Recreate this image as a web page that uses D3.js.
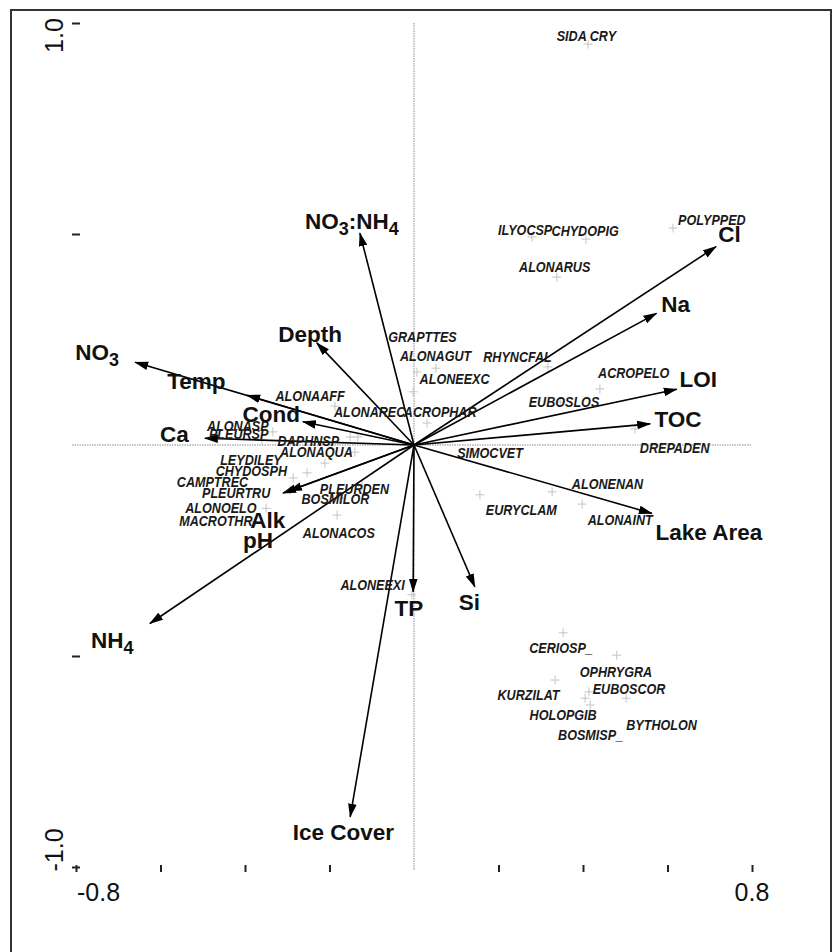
<!DOCTYPE html>
<html>
<head>
<meta charset="utf-8">
<script src="https://cdn.jsdelivr.net/npm/d3@7"></script>
<style>
  html, body { margin: 0; padding: 0; background: #fff; }
  svg { display: block; font-family: "Liberation Sans", Arial, Helvetica, sans-serif; }
</style>
</head>
<body>
<div id="chart"></div>
<script>
// Ordination biplot: environmental variables as arrows, taxa as points.

// Axis ticks and their printed labels
const xTickValues = [-0.8, -0.6, -0.4, -0.2, 0.2, 0.4, 0.6, 0.8];
const yTickValues = [-1.0, -0.5, 0.5, 1.0];
const xTickLabels = [{ v: -0.8, t: "-0.8" }, { v: 0.8, t: "0.8" }];
const yTickLabels = [{ v: 1.0, t: "1.0" }, { v: -1.0, t: "-1.0" }];

// Environmental variables: arrow tip scores on axis 1 and axis 2
const envNames = ["NO3:NH4", "Depth", "NO3", "Temp", "Cond", "Ca", "Alk", "pH", "NH4",
                  "TP", "Ice Cover", "Si", "Lake Area", "TOC", "LOI", "Na", "Cl"];
const envAxis1 = [-0.128, -0.230, -0.660, -0.395, -0.263, -0.495, -0.310, -0.296, -0.625,
                  -0.002, -0.151, 0.144, 0.563, 0.559, 0.622, 0.574, 0.715];
const envAxis2 = [0.502, 0.242, 0.196, 0.118, 0.055, 0.016, -0.114, -0.109, -0.423,
                  -0.348, -0.881, -0.336, -0.162, 0.050, 0.132, 0.312, 0.470];
// Where each variable name sits, in axis units (label centre, baseline)
const envLabelAxis1 = [-0.147, -0.246, -0.750, -0.515, -0.338, -0.567, -0.346, -0.369, -0.714,
                       -0.012, -0.167, 0.131, 0.698, 0.625, 0.673, 0.619, 0.747];
const envLabelAxis2 = [0.512, 0.244, 0.201, 0.133, 0.055, 0.007, -0.197, -0.244, -0.481,
                       -0.405, -0.936, -0.391, -0.225, 0.043, 0.137, 0.315, 0.481];

// Taxa: species scores on axis 1 and axis 2
const spNames = ["SIDA CRY", "ILYOCSP", "CHYDOPIG", "POLYPPED", "ALONARUS", "GRAPTTES", "ALONAGUT",
                 "RHYNCFAL", "ALONEEXC", "ALONAREC", "ACROPHAR", "ACROPELO", "EUBOSLOS", "DREPADEN",
                 "SIMOCVET", "ALONENAN", "EURYCLAM", "ALONAINT", "ALONAAFF", "ALONASP", "PLEURSP",
                 "DAPHNSP", "ALONAQUA", "LEYDILEY", "CHYDOSPH", "CAMPTREC", "PLEURTRU", "ALONOELO",
                 "MACROTHR", "PLEURDEN", "BOSMILOR", "ALONACOS", "ALONEEXI", "CERIOSP_", "OPHRYGRA",
                 "EUBOSCOR", "KURZILAT", "HOLOPGIB", "BOSMISP_", "BYTHOLON"];
const spAxis1 = [0.412, 0.279, 0.407, 0.613, 0.338, 0.007, 0.052,
                 0.317, -0.002, -0.151, 0.031, 0.440, 0.346, 0.523,
                 0.133, 0.327, 0.156, 0.398, -0.187, -0.334, -0.360,
                 -0.133, -0.140, -0.211, -0.253, -0.286, -0.293, -0.350,
                 -0.376, -0.123, -0.175, -0.182, -0.005, 0.353, 0.480,
                 0.414, 0.334, 0.405, 0.417, 0.502];
const spAxis2 = [0.950, 0.493, 0.488, 0.514, 0.398, 0.173, 0.182,
                 0.185, 0.126, 0.019, 0.052, 0.133, 0.102, 0.038,
                 -0.017, -0.111, -0.118, -0.140, 0.092, 0.031, 0.012,
                 0.019, -0.017, -0.043, -0.066, -0.078, -0.107, -0.150,
                 -0.182, -0.097, -0.126, -0.166, -0.355, -0.445, -0.498,
                 -0.585, -0.557, -0.600, -0.616, -0.600];
// Where each taxon name sits, in axis units (label centre, baseline)
const spLabelAxis1 = [0.408, 0.263, 0.405, 0.705, 0.333, 0.020, 0.051,
                      0.245, 0.096, -0.105, 0.062, 0.520, 0.355, 0.617,
                      0.180, 0.458, 0.254, 0.488, -0.246, -0.417, -0.415,
                      -0.250, -0.231, -0.386, -0.385, -0.477, -0.421, -0.457,
                      -0.469, -0.141, -0.186, -0.178, -0.098, 0.348, 0.478,
                      0.509, 0.271, 0.353, 0.418, 0.586];
const spLabelAxis2 = [0.957, 0.498, 0.495, 0.521, 0.410, 0.244, 0.199,
                      0.197, 0.145, 0.066, 0.066, 0.159, 0.090, -0.019,
                      -0.031, -0.104, -0.166, -0.190, 0.104, 0.033, 0.014,
                      -0.002, -0.028, -0.047, -0.073, -0.100, -0.126, -0.161,
                      -0.192, -0.116, -0.140, -0.220, -0.344, -0.493, -0.550,
                      -0.590, -0.604, -0.652, -0.699, -0.675];

const W = 833, H = 952;
const svg = d3.select("#chart").append("svg")
  .attr("width", W).attr("height", H).attr("viewBox", `0 0 ${W} ${H}`);

const x = d3.scaleLinear().domain([-0.8, 0.8]).range([76, 752]);
const y = d3.scaleLinear().domain([-1.0, 1.0]).range([867, 23]);

// frame
svg.append("rect")
  .attr("x", 11).attr("y", 10).attr("width", 820).attr("height", 980)
  .attr("fill", "none").attr("stroke", "#333").attr("stroke-width", 2);

// zero lines
svg.append("line")
  .attr("x1", x(0)).attr("x2", x(0)).attr("y1", y(1.0)).attr("y2", y(-1.0) + 3)
  .attr("stroke", "#8a8a8a").attr("stroke-width", 1).attr("stroke-dasharray", "1.5,1");
svg.append("line")
  .attr("x1", x(-0.8) - 4).attr("x2", x(0.8)).attr("y1", y(0)).attr("y2", y(0))
  .attr("stroke", "#8a8a8a").attr("stroke-width", 1).attr("stroke-dasharray", "1.5,1");

// tick marks
const xAxis = svg.append("g").attr("transform", `translate(0,${y(-1.0) - 2})`)
  .call(d3.axisBottom(x).tickValues(xTickValues).tickSize(7).tickFormat(""));
const yAxis = svg.append("g").attr("transform", `translate(${x(-0.8) + 4},0)`)
  .call(d3.axisLeft(y).tickValues(yTickValues).tickSize(8).tickFormat(""));
[xAxis, yAxis].forEach(g => {
  g.select(".domain").remove();
  g.selectAll(".tick line").attr("stroke", "#222").attr("stroke-width", 2);
});

// tick labels
svg.append("g").selectAll("text").data(xTickLabels).join("text")
  .attr("x", d => d.v < 0 ? x(d.v) + 1 : x(d.v))
  .attr("y", y(-1.0) + 34)
  .attr("text-anchor", d => d.v < 0 ? "start" : "middle")
  .attr("font-size", 25).attr("fill", "#111")
  .text(d => d.t);
svg.append("g").selectAll("text").data(yTickLabels).join("text")
  .attr("transform", d => `translate(63,${d.v > 0 ? y(d.v) + 12.5 : y(d.v) - 17}) rotate(-90)`)
  .attr("text-anchor", "middle")
  .attr("font-size", 25).attr("fill", "#111")
  .text(d => d.t);

// taxa points (faint crosses)
const species = spNames.map((n, i) => ({
  name: n, a1: spAxis1[i], a2: spAxis2[i], l1: spLabelAxis1[i], l2: spLabelAxis2[i]
}));
const cross = svg.append("g").attr("stroke", "#c4c4c4").attr("stroke-width", 1);
cross.selectAll("path").data(species).join("path")
  .attr("d", d => {
    const cx = x(d.a1), cy = y(d.a2);
    return `M${cx - 4.5},${cy}H${cx + 4.5}M${cx},${cy - 4.5}V${cy + 4.5}`;
  });

// arrows
const defs = svg.append("defs");
defs.append("marker")
  .attr("id", "head").attr("markerUnits", "userSpaceOnUse")
  .attr("viewBox", "0 -5 14 10").attr("refX", 13).attr("refY", 0)
  .attr("markerWidth", 14).attr("markerHeight", 10).attr("orient", "auto")
  .append("path").attr("d", "M0,-4.3L14,0L0,4.3Z").attr("fill", "#000");

const env = envNames.map((n, i) => ({
  name: n, a1: envAxis1[i], a2: envAxis2[i], l1: envLabelAxis1[i], l2: envLabelAxis2[i]
}));
svg.append("g").selectAll("line").data(env).join("line")
  .attr("x1", x(0)).attr("y1", y(0))
  .attr("x2", d => x(d.a1)).attr("y2", d => y(d.a2))
  .attr("stroke", "#000").attr("stroke-width", 1.6)
  .attr("marker-end", "url(#head)");

// taxa labels
svg.append("g").selectAll("text").data(species).join("text")
  .attr("transform", d => `translate(${x(d.l1)},${y(d.l2)}) scale(1,1.12)`)
  .attr("text-anchor", "middle")
  .attr("font-size", 12.6).attr("font-weight", "bold").attr("font-style", "italic")
  .attr("fill", "#1a1a1a")
  .text(d => d.name);

// variable labels, with chemical subscripts
function addParts(sel, name) {
  const m = name.split(/(\d)/);
  let sub = false;
  m.forEach(part => {
    if (part === "") return;
    const isDigit = /^\d$/.test(part);
    const t = sel.append("tspan").text(part);
    if (isDigit && !sub) { t.attr("dy", 6).attr("font-size", 18); sub = true; }
    else if (!isDigit && sub) { t.attr("dy", -6); sub = false; }
    else if (isDigit) { t.attr("font-size", 18); }
  });
}
const envText = svg.append("g").selectAll("text").data(env).join("text")
  .attr("x", d => x(d.l1)).attr("y", d => y(d.l2))
  .attr("text-anchor", "middle")
  .attr("font-size", 22.5).attr("font-weight", "bold").attr("fill", "#111");
envText.each(function (d) { addParts(d3.select(this), d.name); });
</script>
</body>
</html>
